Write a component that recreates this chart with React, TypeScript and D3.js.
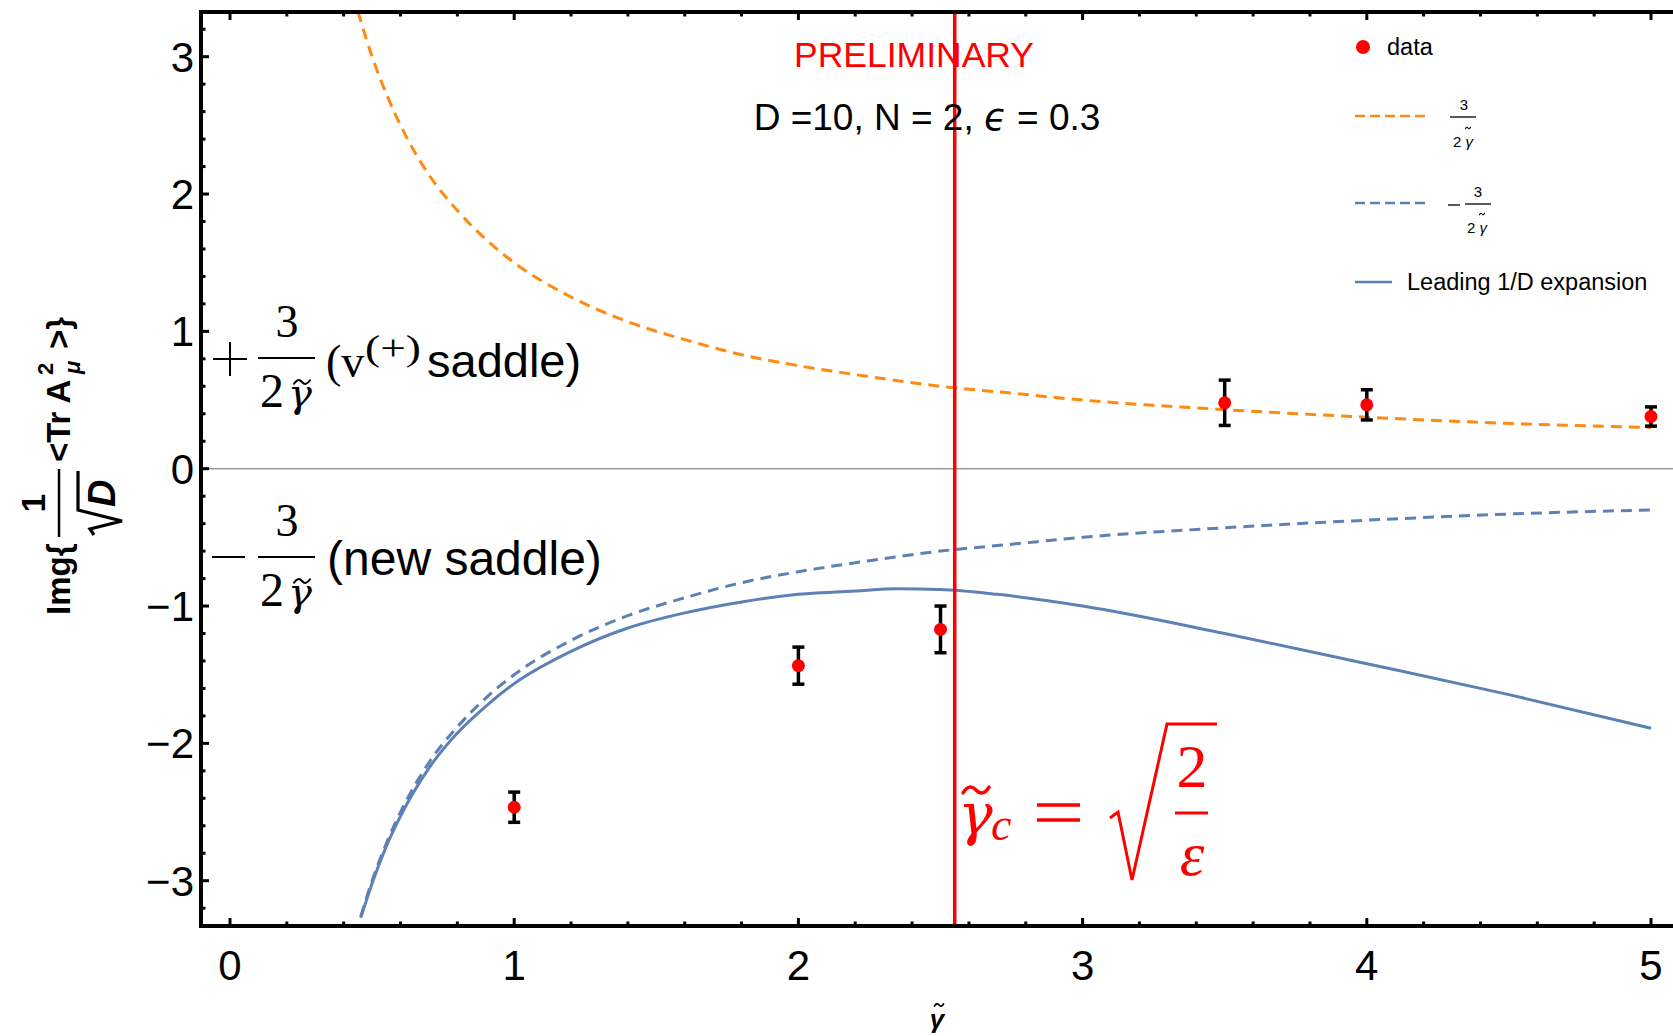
import * as d3 from 'd3';
import React from 'react';

// data points with error bars
const dataX = [1, 2, 2.5, 3.5, 4, 5];
const dataY = [-2.465, -1.434, -1.17, 0.48, 0.465, 0.38];
const dataErr = [0.11, 0.135, 0.17, 0.165, 0.11, 0.07];

// +3/(2 gamma) and -3/(2 gamma)
const dashX = [0.45, 0.5, 0.55, 0.6, 0.7, 0.8, 0.9, 1.0, 1.2, 1.4, 1.6, 1.8, 2.0, 2.25, 2.5, 2.75, 3.0, 3.5, 4.0, 4.5, 5.0];
const plusY = [3.33, 3.0, 2.73, 2.5, 2.14, 1.88, 1.67, 1.5, 1.25, 1.07, 0.94, 0.83, 0.75, 0.67, 0.6, 0.55, 0.5, 0.43, 0.375, 0.33, 0.3];
const minusX = [0.46, 0.5, 0.55, 0.6, 0.7, 0.8, 0.9, 1.0, 1.2, 1.4, 1.6, 1.8, 2.0, 2.25, 2.5, 2.75, 3.0, 3.5, 4.0, 4.5, 5.0];
const minusY = [-3.26, -3.0, -2.73, -2.5, -2.14, -1.88, -1.67, -1.5, -1.25, -1.07, -0.94, -0.83, -0.75, -0.67, -0.6, -0.55, -0.5, -0.43, -0.375, -0.33, -0.3];

// leading 1/D expansion
const leadX = [0.46, 0.5, 0.55, 0.6, 0.7, 0.8, 0.9, 1.0, 1.2, 1.4, 1.6, 1.8, 2.0, 2.2, 2.35, 2.5, 2.7, 3.0, 3.5, 4.0, 4.5, 5.0];
const leadY = [-3.27, -3.02, -2.75, -2.53, -2.18, -1.925, -1.73, -1.565, -1.33, -1.16, -1.05, -0.97, -0.915, -0.89, -0.875, -0.88, -0.915, -1.0, -1.2, -1.42, -1.645, -1.89];

const gammaC = 2.55;
const xTicks = [0, 1, 2, 3, 4, 5];
const yTicks = [-3, -2, -1, 0, 1, 2, 3];

const W = 1673;
const H = 1036;
const ORANGE = '#FF8A12';
const BLUE = '#5E81B5';
const RED = '#FF0000';
const SANS = '"Liberation Sans", Arial, sans-serif';
const SERIF = '"Liberation Serif", "Times New Roman", serif';
const GSERIF = '"DejaVu Serif", serif';

const x = d3.scaleLinear().domain([0, 5]).range([230, 1651]);
const y = d3.scaleLinear().domain([-3, 3]).range([880.7, 56.7]);

const left = 201;
const right = W;
const top = 12;
const bottom = 926;

const lineGen = d3
  .line<[number, number]>()
  .x((d) => x(d[0]))
  .y((d) => y(d[1]))
  .curve(d3.curveMonotoneX);

const zip = (a: number[], b: number[]) => a.map((v, i) => [v, b[i]] as [number, number]);

const xMinor = d3.range(0, 5.01, 0.2).filter((v) => Math.abs(v - Math.round(v)) > 1e-6);
const yMinor = d3.range(-3.2, 3.21, 0.2).filter((v) => Math.abs(v - Math.round(v)) > 1e-6);

// a tilde accent drawn as a small wave
const Tilde = ({ cx, cy, w, h, sw = 1.5, color = '#000' }: { cx: number; cy: number; w: number; h: number; sw?: number; color?: string }) => (
  <path
    d={`M${cx - w / 2},${cy + h * 0.35} Q${cx - w / 4},${cy - h * 0.9} ${cx},${cy} T${cx + w / 2},${cy - h * 0.35}`}
    fill="none"
    stroke={color}
    strokeWidth={sw}
    strokeLinecap="round"
  />
);

const Frac = ({ bar, plus }: { bar: number; plus: boolean }) => (
  <g fontFamily={SERIF}>
    {plus ? (
      <g stroke="#000" strokeWidth={2}>
        <line x1={213} x2={247} y1={bar + 1} y2={bar + 1} />
        <line x1={230} x2={230} y1={bar - 16} y2={bar + 18} />
      </g>
    ) : (
      <line x1={212} x2={245} y1={bar} y2={bar} stroke="#000" strokeWidth={2} />
    )}
    <line x1={258} x2={315} y1={bar} y2={bar} stroke="#000" strokeWidth={2} />
    <text x={287} y={bar - 21} fontSize={46} textAnchor="middle">3</text>
    <text x={272} y={bar + 49} fontSize={48} textAnchor="middle">2</text>
    <text x={300} y={bar + 49} fontSize={40} fontFamily={GSERIF} fontStyle="italic" textAnchor="middle">
      γ
    </text>
    <Tilde cx={302} cy={bar + 24} w={16} h={5} sw={2} />
  </g>
);

export default function App() {
  const pts = zip(dataX, dataY);
  return (
    <svg
      width={W}
      height={H}
      style={{ position: 'absolute', left: 0, top: 0, background: '#fff' }}
      fontFamily={SANS}
    >
      {/* zero line */}
      <line x1={left} x2={right} y1={y(0)} y2={y(0)} stroke="#999" strokeWidth={1.5} />

      {/* curves */}
      <path d={lineGen(zip(dashX, plusY)) || ''} fill="none" stroke={ORANGE} strokeWidth={3} strokeDasharray="11,7" />
      <path d={lineGen(zip(minusX, minusY)) || ''} fill="none" stroke={BLUE} strokeWidth={3} strokeDasharray="11,7" />
      <path d={lineGen(zip(leadX, leadY)) || ''} fill="none" stroke={BLUE} strokeWidth={3} />

      {/* critical line */}
      <line x1={x(gammaC)} x2={x(gammaC)} y1={top} y2={bottom} stroke={RED} strokeWidth={3.5} />

      {/* error bars and points */}
      {pts.map((d, i) => (
        <g key={i} stroke="#000" strokeWidth={3.5}>
          <line x1={x(d[0])} x2={x(d[0])} y1={y(d[1] - dataErr[i])} y2={y(d[1] + dataErr[i])} />
          <line x1={x(d[0]) - 6} x2={x(d[0]) + 6} y1={y(d[1] - dataErr[i])} y2={y(d[1] - dataErr[i])} />
          <line x1={x(d[0]) - 6} x2={x(d[0]) + 6} y1={y(d[1] + dataErr[i])} y2={y(d[1] + dataErr[i])} />
        </g>
      ))}
      {pts.map((d, i) => (
        <circle key={i} cx={x(d[0])} cy={y(d[1])} r={6.5} fill={RED} />
      ))}

      {/* frame */}
      <g stroke="#000" strokeWidth={4}>
        <line x1={left} x2={right} y1={bottom} y2={bottom} />
        <line x1={left} x2={right} y1={top} y2={top} />
        <line x1={left} x2={left} y1={top - 2} y2={bottom + 2} />
      </g>
      <g stroke="#000" strokeWidth={3}>
        {xTicks.map((t) => (
          <g key={t}>
            <line x1={x(t)} x2={x(t)} y1={bottom} y2={bottom - 8} />
            <line x1={x(t)} x2={x(t)} y1={top} y2={top + 8} />
          </g>
        ))}
        {xMinor.map((t) => (
          <g key={t}>
            <line x1={x(t)} x2={x(t)} y1={bottom} y2={bottom - 4.5} />
            <line x1={x(t)} x2={x(t)} y1={top} y2={top + 4.5} />
          </g>
        ))}
        {yTicks.map((t) => (
          <line key={t} x1={left} x2={left + 8} y1={y(t)} y2={y(t)} />
        ))}
        {yMinor.map((t) => (
          <line key={t} x1={left} x2={left + 4.5} y1={y(t)} y2={y(t)} />
        ))}
      </g>
      {xTicks.map((t) => (
        <text key={t} x={x(t)} y={980} fontSize={42} textAnchor="middle">
          {t}
        </text>
      ))}
      {yTicks.map((t) => (
        <text key={t} x={194} y={y(t) + 15} fontSize={42} textAnchor="end">
          {t < 0 ? '\u2212' + Math.abs(t) : t}
        </text>
      ))}

      {/* x label */}
      <text x={937} y={1028} fontSize={26} fontStyle="italic" fontWeight="bold" textAnchor="middle">
        γ
      </text>
      <Tilde cx={939} cy={1005} w={9} h={3} sw={1.8} />

      {/* y label */}
      <g transform="translate(70,615) rotate(-90)" fontWeight="bold" fontSize={33}>
        <text x={0} y={0}>Img{'{'}</text>
        <line x1={78} x2={146} y1={-11} y2={-11} stroke="#000" strokeWidth={2.5} />
        <text x={112} y={-25} textAnchor="middle">1</text>
        <path d="M80,24 L86,20 L94,52 L105,8 L144,8" fill="none" stroke="#000" strokeWidth={3.2} />
        <text x={108} y={45} fontSize={38} fontStyle="italic">D</text>
        <text x={153} y={0}>
          {'<Tr A'}
        </text>
        <text x={241} y={10} fontSize={22} fontStyle="italic">μ</text>
        <text x={240} y={-17} fontSize={22}>2</text>
        <text x={266} y={0}>{'>}'}</text>
      </g>

      {/* left annotations */}
      <Frac bar={358} plus={true} />
      <text x={326} y={377} fontFamily={SERIF} fontSize={46}>
        (v
      </text>
      <text x={365} y={360} fontFamily={SERIF} fontSize={36} textLength={56} lengthAdjust="spacingAndGlyphs">
        (+)
      </text>
      <text x={427} y={377} fontSize={47}>
        saddle)
      </text>
      <Frac bar={557} plus={false} />
      <text x={327} y={575} fontSize={48}>
        (new saddle)
      </text>

      {/* top texts */}
      <text x={914} y={67} fill={RED} fontSize={35.5} textAnchor="middle">
        PRELIMINARY
      </text>
      <text x={927} y={130} fontSize={37} textAnchor="middle">
        D =10, N = 2, <tspan fontFamily="DejaVu Sans" fontStyle="italic">ϵ</tspan> = 0.3
      </text>

      {/* gamma_c annotation */}
      <g fill={RED} fontFamily={SERIF}>
        <text x={958} y={834} fontSize={58} fontFamily={GSERIF} fontStyle="italic">γ</text>
        <Tilde cx={976} cy={790} w={26} h={8} sw={3.5} color={RED} />
        <text x={991} y={840} fontSize={46} fontStyle="italic">c</text>
        <line x1={1037} x2={1080} y1={805} y2={805} stroke={RED} strokeWidth={3.5} />
        <line x1={1037} x2={1080} y1={820} y2={820} stroke={RED} strokeWidth={3.5} />
        <path d="M1110,818 L1118,812 L1132,880 L1167,724 L1217,724" fill="none" stroke={RED} strokeWidth={3} />
        <line x1={1175} x2={1208} y1={813} y2={813} stroke={RED} strokeWidth={3} />
        <text x={1192} y={787} fontSize={62} textAnchor="middle">2</text>
        <text x={1192} y={875} fontSize={62} fontStyle="italic" textAnchor="middle">ε</text>
      </g>

      {/* legend */}
      <g fontSize={23.5}>
        <circle cx={1363} cy={47} r={7} fill={RED} />
        <text x={1387} y={55}>data</text>
        <line x1={1355} x2={1428} y1={116} y2={116} stroke={ORANGE} strokeWidth={2.5} strokeDasharray="10,5" />
        <text x={1464} y={110} fontSize={15} textAnchor="middle">3</text>
        <line x1={1450} x2={1476} y1={117} y2={117} stroke="#000" strokeWidth={1.3} />
        <text x={1463} y={147} fontSize={15} textAnchor="middle">
          2 <tspan fontStyle="italic">γ</tspan>
        </text>
        <Tilde cx={1468} cy={128} w={5} h={2} sw={1.1} />
        <line x1={1355} x2={1428} y1={203} y2={203} stroke={BLUE} strokeWidth={2.5} strokeDasharray="10,5" />
        <line x1={1448} x2={1460} y1={205} y2={205} stroke="#000" strokeWidth={1.3} />
        <text x={1478} y={197} fontSize={15} textAnchor="middle">3</text>
        <line x1={1465} x2={1491} y1={204} y2={204} stroke="#000" strokeWidth={1.3} />
        <text x={1477} y={233} fontSize={15} textAnchor="middle">
          2 <tspan fontStyle="italic">γ</tspan>
        </text>
        <Tilde cx={1482} cy={214} w={5} h={2} sw={1.1} />
        <line x1={1355} x2={1392} y1={282} y2={282} stroke={BLUE} strokeWidth={2.5} />
        <text x={1407} y={290}>Leading 1/D expansion</text>
      </g>
    </svg>
  );
}
